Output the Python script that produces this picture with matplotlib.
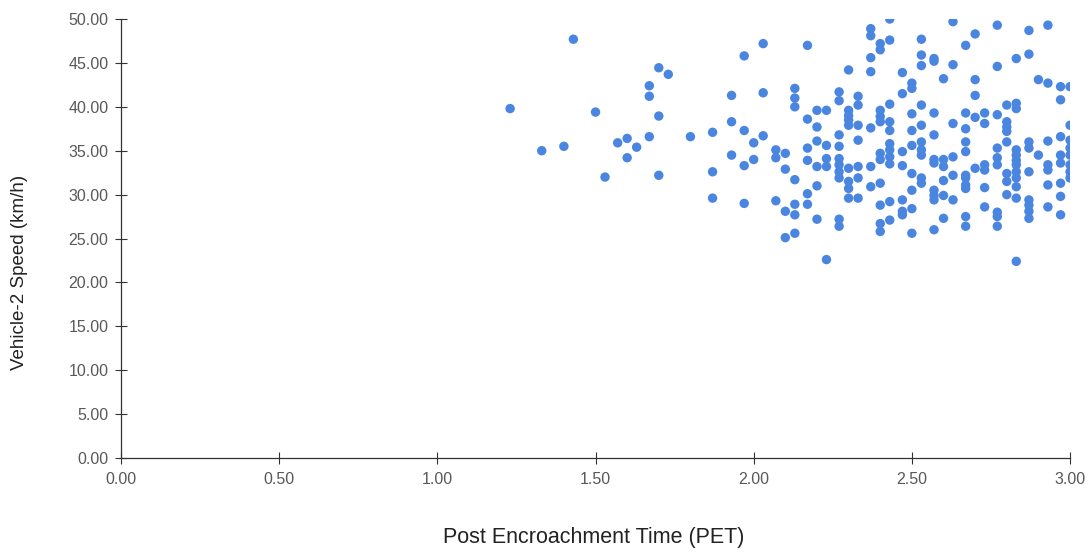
import matplotlib
matplotlib.use("Agg")
import matplotlib.pyplot as plt

# Post Encroachment Time (s) and matching Vehicle-2 speed (km/h), one entry per event
pet = (
    [1.23, 1.33, 1.40, 1.43, 1.50, 1.53, 1.57, 1.60, 1.60, 1.63,
     1.67, 1.67, 1.67, 1.70, 1.70, 1.70, 1.73, 1.80]
    + [1.87] * 3 + [1.93] * 3 + [1.97] * 4 + [2.00] * 2 + [2.03] * 3
    + [2.07] * 3 + [2.10] * 4 + [2.13] * 7 + [2.17] * 6 + [2.20] * 6
    + [2.23] * 5 + [2.27] * 10 + [2.30] * 9 + [2.33] * 7 + [2.37] * 7
    + [2.40] * 11 + [2.43] * 11 + [2.47] * 7 + [2.50] * 9 + [2.53] * 10
    + [2.57] * 10 + [2.60] * 6 + [2.63] * 6 + [2.67] * 11 + [2.70] * 5
    + [2.73] * 6 + [2.77] * 9 + [2.80] * 8 + [2.83] * 12 + [2.87] * 9
    + [2.90] * 2 + [2.93] * 7 + [2.97] * 8 + [3.00] * 8
)

speed = [
    39.8, 35.0, 35.5, 47.7, 39.4, 32.0, 35.9, 36.4, 34.2, 35.4,
    42.4, 41.2, 36.6, 44.45, 38.95, 32.2, 43.7, 36.6,
    37.1, 32.6, 29.6,
    41.3, 38.3, 34.5,
    45.8, 37.3, 33.3, 29.0,
    35.9, 34.0,
    47.2, 41.6, 36.7,
    35.1, 34.2, 29.3,
    34.7, 32.9, 28.1, 25.1,
    42.1, 41.0, 40.0, 31.7, 28.9, 27.7, 25.6,
    47.0, 38.6, 35.3, 33.9, 30.1, 28.9,
    39.6, 37.7, 36.1, 33.2, 31.0, 27.2,
    39.6, 35.6, 34.1, 33.2, 22.6,
    41.7, 40.7, 36.8, 35.5, 34.1, 33.4, 32.6, 31.9, 27.2, 26.4,
    44.2, 39.6, 39.0, 38.5, 37.9, 33.0, 31.5, 30.7, 29.6,
    41.2, 40.2, 37.9, 36.2, 33.2, 31.9, 29.6,
    48.9, 48.1, 45.6, 44.0, 37.6, 33.2, 30.9,
    47.2, 46.5, 39.6, 38.9, 38.3, 34.7, 34.0, 31.3, 28.8, 26.7, 25.8,
    50.0, 47.6, 40.3, 38.3, 37.3, 35.8, 35.1, 34.3, 33.5, 29.2, 27.1,
    43.9, 41.5, 34.9, 33.3, 29.4, 28.1, 27.7,
    42.7, 42.1, 39.2, 37.3, 35.6, 32.4, 30.5, 28.4, 25.6,
    47.7, 45.9, 44.7, 40.2, 37.9, 36.0, 35.1, 34.5, 31.9, 31.3,
    45.5, 45.2, 39.3, 36.8, 34.0, 33.6, 30.5, 29.9, 29.4, 26.0,
    43.2, 34.0, 33.2, 31.6, 29.9, 27.3,
    49.7, 44.8, 38.1, 34.3, 32.2, 29.4,
    47.0, 39.3, 37.5, 36.0, 34.9, 32.2, 31.9, 31.1, 30.7, 27.5, 26.4,
    48.3, 43.1, 41.3, 38.8, 33.0,
    39.3, 38.1, 33.4, 32.8, 30.8, 28.6,
    49.3, 44.6, 39.1, 35.3, 34.2, 33.4, 28.0, 27.5, 26.4,
    40.2, 38.3, 37.7, 37.2, 36.0, 32.4, 31.5, 30.0,
    45.5, 40.4, 39.8, 35.1, 34.5, 33.9, 33.4, 32.6, 31.9, 30.9, 29.6, 22.4,
    48.7, 46.0, 36.0, 35.3, 32.6, 29.4, 28.8, 28.1, 27.3,
    43.1, 34.5,
    49.3, 42.7, 36.1, 33.4, 32.8, 31.1, 28.6,
    42.3, 40.8, 36.6, 34.5, 33.6, 31.3, 29.8, 27.7,
    42.3, 37.9, 36.2, 35.3, 34.5, 33.4, 32.6, 31.9,
]

x_ticks = [0.0, 0.5, 1.0, 1.5, 2.0, 2.5, 3.0]
y_ticks = [0, 5, 10, 15, 20, 25, 30, 35, 40, 45, 50]

plt.rcParams["font.family"] = ["Liberation Sans", "DejaVu Sans"]

fig = plt.figure(figsize=(10.92, 5.53), dpi=100)
ax = fig.add_axes([0.1108, 0.1718, 0.8691, 0.7938])

ax.scatter(pet, speed, s=46, color="#4a86e0", edgecolors="none", zorder=3)

ax.set_xlim(0, 3.0)
ax.set_ylim(0, 50)
ax.set_xticks(x_ticks)
ax.set_yticks(y_ticks)
ax.set_xticklabels([f"{v:.2f}" for v in x_ticks])
ax.set_yticklabels([f"{v:.2f}" for v in y_ticks])

for side in ("top", "right"):
    ax.spines[side].set_visible(False)
for side in ("left", "bottom"):
    ax.spines[side].set_color("#333333")
    ax.spines[side].set_linewidth(0.9)

ax.tick_params(axis="both", direction="inout", length=8, width=0.8,
               color="#333333", labelcolor="#595959", labelsize=11.5)
ax.tick_params(axis="y", pad=5)
ax.tick_params(axis="x", pad=6)

fig.text(0.5435, 0.028, "Post Encroachment Time (PET)", ha="center",
         va="center", fontsize=15.5, color="#222222")
fig.text(0.018, 0.508, "Vehicle-2 Speed (km/h)", ha="center",
         va="center", rotation=90, fontsize=13.5, color="#222222")

fig.savefig("out.png", dpi=100)
